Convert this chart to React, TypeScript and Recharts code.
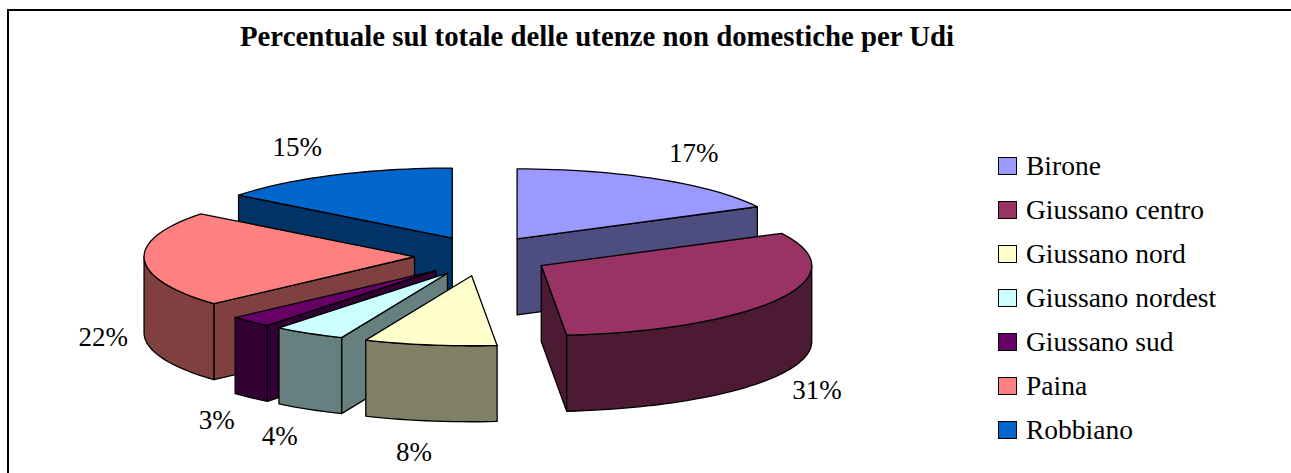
import React from "react";
import { PieChart, Pie, Legend } from "recharts";

const categories = ["Birone", "Giussano centro", "Giussano nord", "Giussano nordest", "Giussano sud", "Paina", "Robbiano"];
const values = [17.4, 31.1, 7.9, 4.3, 2.6, 22.2, 14.5];
const topColors = ["#9999FF", "#993366", "#FFFFCC", "#CCFFFF", "#660066", "#FF8080", "#0066CC"];
const sideColors = ["#4D4D80", "#4D1A33", "#808066", "#668080", "#330033", "#804040", "#003366"];
const drawOrder = ["Birone", "Robbiano", "Paina", "Giussano sud", "Giussano nordest", "Giussano nord", "Giussano centro"];
const title = "Percentuale sul totale delle utenze non domestiche per Udi";

const data = categories.map((name, i) => ({ name, value: values[i], top: topColors[i], side: sideColors[i] }));

const FONT = "'Liberation Serif', 'Times New Roman', serif";
const W = 1291;
const H = 473;
const RX = 270.5;
const SQUASH = 70 / RX;
const DEPTH = 76;
const EXPLODE_X = 67.5;
const EXPLODE_Y = 20;
const LABEL_GAP_FRONT = 41;
const LABEL_GAP_BACK = 36;
const LABEL_RY = 101;

const rad = (d: number) => (d * Math.PI) / 180;

function Slice3D(props: any) {
  const { cx, cy, outerRadius, startAngle, endAngle, payload, value } = props;
  const rx = outerRadius;
  const ry = outerRadius * SQUASH;
  const item = payload?.payload ?? payload;
  const top = item.top;
  const side = item.side;
  // Clockwise degrees from 12 o'clock
  const a = 90 - startAngle;
  const b = 90 - endAngle;
  const mid = (a + b) / 2;
  const ax = cx + EXPLODE_X * Math.sin(rad(mid));
  const ay = cy - EXPLODE_Y * Math.cos(rad(mid));
  const px = (t: number) => ax + rx * Math.sin(rad(t));
  const py = (t: number) => ay - ry * Math.cos(rad(t));
  const arc = (from: number, to: number, dy: number) => {
    const pts: string[] = [];
    const n = Math.max(2, Math.ceil(Math.abs(to - from) / 2));
    for (let i = 0; i <= n; i++) {
      const t = from + ((to - from) * i) / n;
      pts.push(`${px(t).toFixed(2)} ${(py(t) + dy).toFixed(2)}`);
    }
    return pts;
  };
  const quad = (t: number) =>
    `M${ax} ${ay}L${px(t)} ${py(t)}L${px(t)} ${py(t) + DEPTH}L${ax} ${ay + DEPTH}Z`;

  const frontFrom = Math.max(a, 90);
  const frontTo = Math.min(b, 270);
  const rimPath =
    frontTo > frontFrom
      ? `M${arc(frontFrom, frontTo, 0).join("L")}L${arc(frontTo, frontFrom, DEPTH).join("L")}Z`
      : null;
  const topPath = `M${ax} ${ay}L${arc(a, b, 0).join("L")}Z`;
  const stroke = { stroke: "#000", strokeWidth: 1.3, strokeLinejoin: "round" as const };

  const s = Math.sin(rad(mid));
  const c = Math.cos(rad(mid));
  const gap = c < 0 ? LABEL_GAP_FRONT * Math.sqrt(Math.abs(s)) : LABEL_GAP_BACK;
  const lx = ax + rx * s + Math.sign(s) * gap;
  const ly = ay - LABEL_RY * c + (c < 0 ? DEPTH : 0);

  return (
    <g>
      {Math.sin(rad(a)) < 0 && <path d={quad(a)} fill={side} {...stroke} />}
      {Math.sin(rad(b)) > 0 && <path d={quad(b)} fill={side} {...stroke} />}
      {rimPath && <path d={rimPath} fill={side} {...stroke} />}
      <path d={topPath} fill={top} {...stroke} />
      <text x={lx} y={ly} textAnchor="middle" dominantBaseline="central" fontFamily={FONT} fontSize={27} fill="#000">
        {Math.round(value)}%
      </text>
    </g>
  );
}

const LegendBox = () => (
  <div style={{ fontFamily: FONT, fontSize: 27.5, lineHeight: "44px", color: "#000" }}>
    {data.map((d) => (
      <div key={d.name} style={{ display: "flex", alignItems: "center", height: 44, whiteSpace: "nowrap" }}>
        <span
          style={{
            display: "inline-block",
            boxSizing: "border-box",
            width: 19,
            height: 18,
            background: d.top,
            border: "1.5px solid #000",
            marginRight: 9,
          }}
        />
        {d.name}
      </div>
    ))}
  </div>
);

export default function App() {
  return (
    <div style={{ position: "absolute", left: 0, top: 0, width: W, height: H, background: "#fff" }}>
      <PieChart width={W} height={H} margin={{ top: 0, right: 0, bottom: 0, left: 0 }}>
        <line x1={8} y1={473} x2={8} y2={9.5} stroke="#000" strokeWidth={2} />
        <line x1={7} y1={10} x2={1291} y2={10} stroke="#000" strokeWidth={2} />
        <text x={597} y={46} textAnchor="middle" fontFamily={FONT} fontWeight="bold" fontSize={28.8} fill="#000">
          {title}
        </text>
        {drawOrder.map((target) => (
          <Pie
            key={target}
            data={data}
            dataKey="value"
            nameKey="name"
            cx={482}
            cy={256}
            outerRadius={RX}
            startAngle={90}
            endAngle={-270}
            paddingAngle={0}
            stroke="none"
            legendType="none"
            isAnimationActive={false}
            shape={(p: any) => (p.name === target ? <Slice3D {...p} /> : <g />)}
          />
        ))}
        <Legend
          layout="vertical"
          content={<LegendBox />}
          wrapperStyle={{ position: "absolute", left: 998, top: 144, width: 280, height: 308 }}
        />
      </PieChart>
    </div>
  );
}
